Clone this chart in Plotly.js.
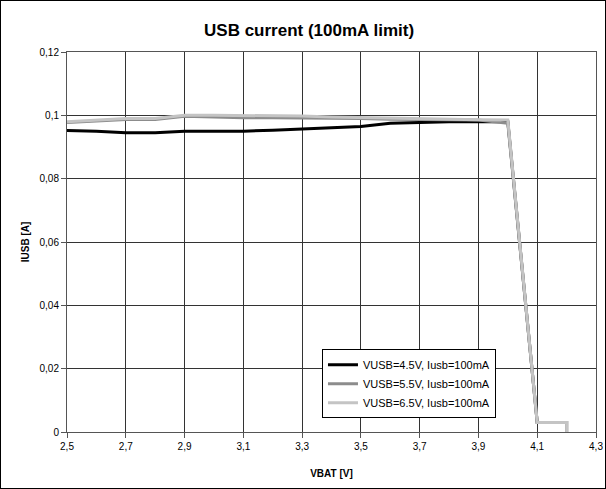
<!DOCTYPE html>
<html>
<head>
<meta charset="utf-8">
<script src="https://cdn.plot.ly/plotly-3.0.1.min.js"></script>
<style>
html,body{margin:0;padding:0;background:#fff;}
#wrap{position:relative;width:606px;height:489px;}
#chart{position:absolute;left:0;top:0;width:606px;height:489px;}
#frame{position:absolute;left:0;top:0;width:606px;height:489px;box-sizing:border-box;border:1px solid #000;pointer-events:none;}
</style>
</head>
<body>
<div id="wrap"><div id="chart"></div><div id="frame"></div></div>
<script>
// VBAT [V]
const vbat = [2.5,2.6,2.7,2.8,2.9,3.0,3.1,3.2,3.3,3.4,3.5,3.6,3.7,3.8,3.9,4.0,4.1,4.2,4.2];
// IUSB [A]
const iusb45 = [0.0952,0.0950,0.0945,0.0945,0.0950,0.0950,0.0950,0.0953,0.0957,0.0960,0.0965,0.0975,0.0978,0.0980,0.0980,0.0980,0.003,0.003,0];
const iusb55 = [0.0977,0.0982,0.0987,0.0987,0.0997,0.0995,0.0992,0.0992,0.0992,0.0992,0.0990,0.0988,0.0987,0.0986,0.0985,0.0975,0.003,0.003,0];
const iusb65 = [0.0980,0.0985,0.0990,0.0990,0.1000,0.1000,0.1000,0.1000,0.0998,0.0995,0.0993,0.0990,0.0990,0.0988,0.0986,0.0985,0.003,0.003,0];
const seriesNames = ["VUSB=4.5V, Iusb=100mA","VUSB=5.5V, Iusb=100mA","VUSB=6.5V, Iusb=100mA"];
const xTickVals = [2.5,2.7,2.9,3.1,3.3,3.5,3.7,3.9,4.1,4.3];
const xTickText = ["2,5","2,7","2,9","3,1","3,3","3,5","3,7","3,9","4,1","4,3"];
const yTickVals = [0,0.02,0.04,0.06,0.08,0.1,0.12];
const yTickText = ["0","0,02","0,04","0,06","0,08","0,1","0,12"];

const font = "Liberation Sans, Arial, sans-serif";
const traces = [
  {x: vbat, y: iusb45, name: seriesNames[0], mode: "lines", line: {color: "#000000", width: 3}},
  {x: vbat, y: iusb55, name: seriesNames[1], mode: "lines", line: {color: "#8c8c8c", width: 3}},
  {x: vbat, y: iusb65, name: seriesNames[2], mode: "lines", line: {color: "#c4c4c4", width: 3}}
];
const layout = {
  width: 606, height: 489,
  margin: {l: 67, r: 10, t: 52, b: 57},
  paper_bgcolor: "#ffffff", plot_bgcolor: "#ffffff",
  font: {family: font, color: "#000", size: 10},
  title: {text: "<b>USB current (100mA limit)</b>", font: {family: font, size: 17, color: "#000"},
          xref: "container", x: 0.51, xanchor: "center", yref: "container", y: 0.938, yanchor: "middle"},
  showlegend: true,
  legend: {x: 0.482, y: 0.218, xanchor: "left", yanchor: "top", bgcolor: "#fff", bordercolor: "#000", borderwidth: 1,
           font: {family: font, size: 11, color: "#000"}, tracegroupgap: 0, itemwidth: 30},
  xaxis: {range: [2.5, 4.3], tickvals: xTickVals, ticktext: xTickText, showgrid: true, gridcolor: "#333", gridwidth: 1,
          showline: true, linecolor: "#555", linewidth: 1, mirror: true, ticks: "outside", ticklen: 5, tickcolor: "#555",
          zeroline: false, tickfont: {family: font, size: 10, color: "#000"},
          title: {text: "<b>VBAT [V]</b>", font: {family: font, size: 10, color: "#000"}, standoff: 18}},
  yaxis: {range: [0, 0.12], tickvals: yTickVals, ticktext: yTickText, showgrid: true, gridcolor: "#333", gridwidth: 1,
          showline: true, linecolor: "#555", linewidth: 1, mirror: true, ticks: "outside", ticklen: 5, tickcolor: "#555",
          zeroline: false, tickfont: {family: font, size: 10, color: "#000"},
          title: {text: "<b>IUSB [A]</b>", font: {family: font, size: 10, color: "#000"}, standoff: 8}}
};
Plotly.newPlot("chart", traces, layout, {staticPlot: true, displayModeBar: false});
</script>
</body>
</html>
